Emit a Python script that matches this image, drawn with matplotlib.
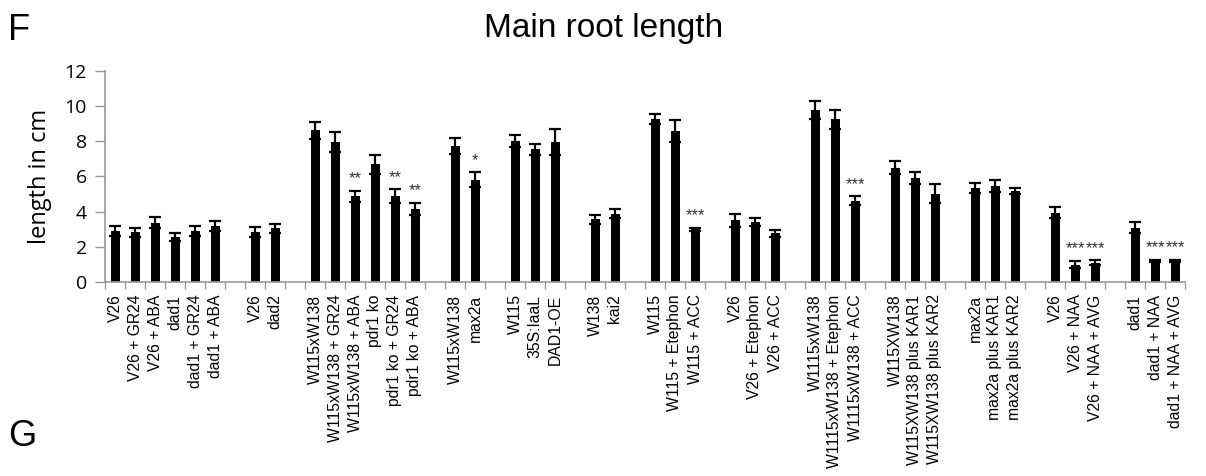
import matplotlib
matplotlib.use("Agg")
import matplotlib.pyplot as plt
import numpy as np

# ---- data ----
group_labels = [
    ["V26", "V26 + GR24", "V26 + ABA", "dad1", "dad1 + GR24", "dad1 + ABA"],
    ["V26", "dad2"],
    ["W115xW138", "W115xW138 + GR24", "W115xW138 + ABA", "pdr1 ko", "pdr1 ko + GR24", "pdr1 ko + ABA"],
    ["W115xW138", "max2a"],
    ["W115", "35S:IaaL", "DAD1-OE"],
    ["W138", "kai2"],
    ["W115", "W115 + Etephon", "W115 + ACC"],
    ["V26", "V26 + Etephon", "V26 + ACC"],
    ["W1115xW138", "W1115xW138 + Etephon", "W1115xW138 + ACC"],
    ["W115XW138", "W115XW138 plus KAR1", "W115XW138 plus KAR2"],
    ["max2a", "max2a plus KAR1", "max2a plus KAR2"],
    ["V26", "V26 + NAA", "V26 + NAA + AVG"],
    ["dad1", "dad1 + NAA", "dad1 + NAA + AVG"],
]
group_means = [
    [2.9, 2.82, 3.37, 2.57, 2.9, 3.2],
    [2.85, 3.05],
    [8.62, 7.96, 4.87, 6.69, 4.89, 4.17],
    [7.73, 5.8],
    [8.02, 7.53, 7.96],
    [3.55, 3.89],
    [9.25, 8.57, 3.0],
    [3.5, 3.41, 2.77],
    [9.76, 9.23, 4.61],
    [6.5, 5.91, 5.02],
    [5.35, 5.46, 5.16],
    [3.94, 0.99, 1.1],
    [3.09, 1.21, 1.21],
]
group_errs = [
    [0.3, 0.25, 0.3, 0.22, 0.28, 0.28],
    [0.28, 0.26],
    [0.48, 0.55, 0.32, 0.53, 0.38, 0.34],
    [0.47, 0.42],
    [0.34, 0.3, 0.72],
    [0.26, 0.26],
    [0.29, 0.64, 0.08],
    [0.38, 0.25, 0.19],
    [0.53, 0.55, 0.26],
    [0.38, 0.33, 0.53],
    [0.28, 0.34, 0.19],
    [0.33, 0.22, 0.13],
    [0.3, 0.05, 0.05],
]
# significance marks: (group index, bar index within group, text)
stars = [
    (2, 2, "**"), (2, 4, "**"), (2, 5, "**"),
    (3, 1, "*"),
    (6, 2, "***"),
    (8, 2, "***"),
    (11, 1, "***"), (11, 2, "***"),
    (12, 1, "***"), (12, 2, "***"),
]

# ---- build slot layout (one empty slot between groups) ----
xs, labels, means, errs = [], [], [], []
group_x = []
slot = 0
for gi, (gl, gm, ge) in enumerate(zip(group_labels, group_means, group_errs)):
    gx = []
    for l, m, e in zip(gl, gm, ge):
        xs.append(slot); labels.append(l); means.append(m); errs.append(e)
        gx.append(slot)
        slot += 1
    group_x.append(gx)
    if gi < len(group_labels) - 1:
        slot += 1
n_slots = slot

fig = plt.figure(figsize=(12.06, 4.76), dpi=100)
ax = fig.add_axes([105 / 1206, 1 - 282 / 476, (1185 - 105) / 1206, (282 - 70.7) / 476])

ax.bar(xs, means, width=0.45, color="black", zorder=2)
ax.errorbar(xs, means, yerr=errs, fmt="none", ecolor="black", elinewidth=1.6,
            capsize=4, capthick=1.6, zorder=3)

for gi, bi, txt in stars:
    x = group_x[gi][bi]
    y = group_means[gi][bi] + group_errs[gi][bi]
    ax.text(x, y + 0.25, txt, ha="center", va="bottom", fontsize=12,
            color="#333333", family="Liberation Sans")

ax.set_xlim(-0.5, n_slots - 0.5)
ax.set_ylim(0, 12)
ax.set_yticks(np.arange(0, 13, 2))
ax.tick_params(axis="y", length=7, width=1, color="#999999", labelsize=14, pad=6)
for t in ax.get_yticklabels():
    t.set_family("Open Sans")

ax.set_xticks(xs)
ax.set_xticklabels(labels, rotation=90, fontsize=11.3, family="Liberation Sans", va="top")
ax.tick_params(axis="x", length=0, pad=9)
# tick marks at slot boundaries
ax.set_xticks(np.arange(-0.5, n_slots, 1.0), minor=True)
ax.tick_params(axis="x", which="minor", length=5, width=1, color="#999999")

for s in ["top", "right"]:
    ax.spines[s].set_visible(False)
for s in ["left", "bottom"]:
    ax.spines[s].set_color("#999999")
    ax.spines[s].set_linewidth(1.2)

ax.set_ylabel("length in cm", fontsize=17, family="Open Sans")
ax.yaxis.set_label_coords(-0.049, 0.5)

fig.text(604 / 1206, 1 - 29 / 476, "Main root length", ha="center", va="center",
         fontsize=24, family="Liberation Sans")
fig.text(8 / 1206, 1 - 31 / 476, "F", ha="left", va="center", fontsize=26,
         family="Liberation Sans")
fig.text(8 / 1206, 1 - 437 / 476, "G", ha="left", va="center", fontsize=26,
         family="Liberation Sans")

fig.savefig("out.png", dpi=100)
